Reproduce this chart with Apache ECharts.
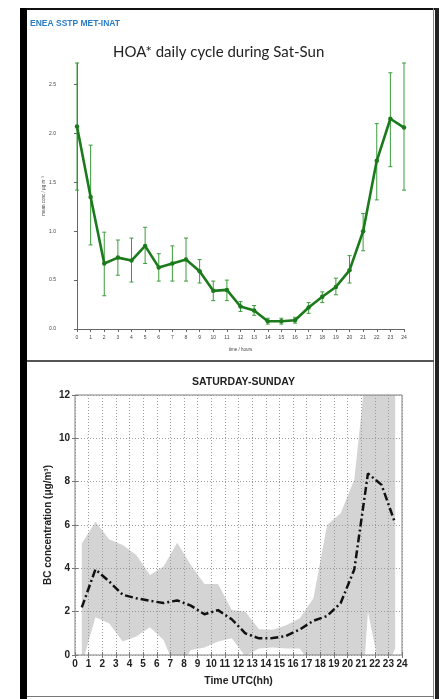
<!DOCTYPE html>
<html>
<head>
<meta charset="utf-8">
<script src="https://cdn.jsdelivr.net/npm/echarts@6/dist/echarts.min.js"></script>
<style>
html,body{margin:0;padding:0;background:#fff;}
#chart{width:439px;height:699px;}
</style>
</head>
<body>
<div id="chart"></div>
<script>
// ---- Top panel: HOA* daily cycle ----
const hoaHours = [0,1,2,3,4,5,6,7,8,9,10,11,12,13,14,15,16,17,18,19,20,21,22,23,24];
const hoaMean  = [2.07,1.35,0.67,0.73,0.70,0.85,0.63,0.67,0.71,0.59,0.39,0.40,0.23,0.19,0.08,0.08,0.09,0.22,0.33,0.43,0.60,1.00,1.72,2.15,2.06];
const hoaHigh  = [2.72,1.88,0.99,0.91,0.93,1.04,0.77,0.85,0.93,0.71,0.49,0.50,0.28,0.24,0.11,0.11,0.12,0.27,0.38,0.52,0.75,1.18,2.10,2.62,2.72];
const hoaLow   = [1.42,0.86,0.34,0.55,0.48,0.67,0.49,0.49,0.49,0.47,0.29,0.29,0.18,0.14,0.05,0.05,0.06,0.16,0.27,0.35,0.47,0.80,1.32,1.66,1.42];
const hoaYTicks = [0,0.5,1,1.5,2,2.5];

// ---- Bottom panel: BC SATURDAY-SUNDAY ----
const bcHours = [0.5,1.5,2.5,3.5,4.5,5.5,6.5,7.5,8.5,9.5,10.5,11.5,12.5,13.5,14.5,15.5,16.5,17.5,18.5,19.5,20.5,21.5,22.5,23.5];
const bcMean  = [2.2,3.95,3.4,2.78,2.62,2.5,2.4,2.52,2.28,1.88,2.07,1.65,1.0,0.77,0.78,0.88,1.18,1.58,1.8,2.4,3.95,8.38,7.85,6.08];
const bcUpper = [5.15,6.15,5.34,5.08,4.61,3.69,4.08,5.18,4.15,3.28,3.28,2.08,2.0,1.19,1.17,1.37,1.7,2.62,6.0,6.54,8.1,14,14,13];
const bcLower = [-0.45,1.74,1.46,0.62,0.85,1.28,0.69,-0.81,0.23,0.35,0.62,0.77,-0.05,0.3,0.35,0.3,0.3,-0.6,-2,-4,-7.5,2.0,-1.1,0.3];
const bcYTicks = [0,2,4,6,8,10,12];

const zip = (a,b) => a.map((v,i)=>[v,b[i]]);

const chart = echarts.init(document.getElementById('chart'), null, {renderer:'canvas'});

const boldFont = {fontFamily:'Liberation Sans, Arial, sans-serif', fontWeight:'bold', color:'#222'};

const option = {
  backgroundColor:'#ffffff',
  animation:false,
  title:[
    {text:'ENEA SSTP MET-INAT', left:30, top:19, padding:0,
     textStyle:{fontFamily:'Liberation Sans, Arial, sans-serif', fontSize:8.5, fontWeight:'bold', color:'#2a7cc4'}},
    {text:'HOA* daily cycle during Sat-Sun', left:113, top:45, padding:0,
     textStyle:{fontFamily:'Lato, Open Sans, sans-serif', fontSize:15, fontWeight:'normal', color:'#222'}},
    {text:'SATURDAY-SUNDAY', left:192, top:377, padding:0,
     textStyle:Object.assign({fontSize:10.5}, boldFont)}
  ],
  graphic:[
    {type:'rect', shape:{x:20,y:8,width:418,height:2}, style:{fill:'#111'}, z:100},
    {type:'rect', shape:{x:20,y:8,width:7,height:691}, style:{fill:'#000'}, z:100},
    {type:'rect', shape:{x:433,y:8,width:1,height:691}, style:{fill:'#888'}, z:100},
    {type:'rect', shape:{x:435,y:8,width:4,height:691}, style:{fill:'#222'}, z:100},
    {type:'rect', shape:{x:27,y:360,width:407,height:2}, style:{fill:'#555'}, z:100},
    {type:'rect', shape:{x:27,y:696,width:407,height:1}, style:{fill:'#777'}, z:100}
  ],
  grid:[
    {left:77, right:35, top:63, bottom:370},
    {left:75, right:37, top:395, bottom:44, show:true, borderColor:'#808080', borderWidth:1, backgroundColor:'transparent'}
  ],
  xAxis:[
    {gridIndex:0, type:'value', min:0, max:24, interval:1, offset:1,
     axisLine:{show:true, lineStyle:{color:'#666', width:1}},
     axisTick:{show:true, inside:false, length:3, lineStyle:{color:'#666'}},
     axisLabel:{fontSize:5, color:'#444', margin:5, fontFamily:'Liberation Sans, Arial, sans-serif'},
     splitLine:{show:false},
     name:'time / hours', nameLocation:'middle', nameGap:17, nameMoveOverlap:false,
     nameTextStyle:{fontSize:4.5, color:'#444'}},
    {gridIndex:1, type:'value', min:0, max:24, interval:1,
     axisLine:{show:false},
     axisTick:{show:true, inside:true, length:3, lineStyle:{color:'#777'}},
     axisLabel:Object.assign({fontSize:10, margin:4}, boldFont),
     splitLine:{show:true, lineStyle:{color:'#9a9a9a', type:[1,2], width:1}},
     name:'Time UTC(hh)', nameLocation:'middle', nameGap:21, nameMoveOverlap:false,
     nameTextStyle:Object.assign({fontSize:10.5}, boldFont)},
    {gridIndex:1, type:'value', min:0, max:24, interval:1, position:'top',
     axisLine:{show:false}, axisTick:{show:true, inside:true, length:3, lineStyle:{color:'#777'}},
     axisLabel:{show:false}, splitLine:{show:false}}
  ],
  yAxis:[
    {gridIndex:0, type:'value', min:0, max:2.72, interval:0.5, offset:17,
     axisLine:{show:true, lineStyle:{color:'#666', width:1}},
     axisTick:{show:true, inside:false, length:3, customValues:hoaYTicks, lineStyle:{color:'#666'}},
     axisLabel:{fontSize:5, color:'#444', margin:4, customValues:hoaYTicks,
                formatter:v=>v.toFixed(1), fontFamily:'Liberation Sans, Arial, sans-serif'},
     splitLine:{show:false},
     name:'mean conc / \u00b5g m\u207b\u00b3', nameLocation:'middle', nameGap:14, nameRotate:90,
     nameMoveOverlap:false,
     nameTextStyle:{fontSize:4.5, color:'#444'}},
    {gridIndex:1, type:'value', min:0, max:12, interval:2,
     axisLine:{show:false},
     axisTick:{show:true, inside:true, length:3, lineStyle:{color:'#777'}},
     axisLabel:Object.assign({fontSize:10, margin:5}, boldFont),
     splitLine:{show:true, lineStyle:{color:'#9a9a9a', type:[1,2], width:1}},
     name:'BC concentration (\u03bcg/m\u00b3)', nameLocation:'middle', nameGap:22, nameRotate:90,
     nameMoveOverlap:false,
     nameTextStyle:Object.assign({fontSize:10}, boldFont)},
    {gridIndex:1, type:'value', min:0, max:12, interval:2, position:'right',
     axisLine:{show:false}, axisTick:{show:true, inside:true, length:3, lineStyle:{color:'#777'}},
     axisLabel:{show:false}, splitLine:{show:false}}
  ],
  series:[
    {type:'custom', name:'BC band', xAxisIndex:1, yAxisIndex:1, clip:true, silent:true, z:-1,
     data: bcHours.map((h,i)=>[h, bcLower[i], bcUpper[i]]),
     renderItem:function(params, api){
       if (params.dataIndexInside !== 0) return null;
       const n = params.dataInsideLength;
       const up = [], lo = [];
       for (let i = 0; i < n; i++) {
         up.push(api.coord([api.value(0, i), api.value(2, i)]));
         lo.push(api.coord([api.value(0, i), api.value(1, i)]));
       }
       return {type:'polygon', shape:{points: up.concat(lo.reverse())},
               style:{fill:'#d4d4d4', stroke:null}};
     }},
    {type:'custom', name:'HOA error', xAxisIndex:0, yAxisIndex:0,
     data: hoaHours.map((h,i)=>[h, hoaLow[i], hoaHigh[i]]),
     renderItem:function(params, api){
       const x = api.value(0), lo = api.value(1), hi = api.value(2);
       const t = api.coord([x, hi]), b = api.coord([x, lo]);
       const c = 2, st = {stroke:'#3c9c3c', lineWidth:1};
       return {type:'group', children:[
         {type:'line', shape:{x1:t[0],y1:t[1],x2:b[0],y2:b[1]}, style:st},
         {type:'line', shape:{x1:t[0]-c,y1:t[1],x2:t[0]+c,y2:t[1]}, style:st},
         {type:'line', shape:{x1:b[0]-c,y1:b[1],x2:b[0]+c,y2:b[1]}, style:st}
       ]};
     }, z:2},
    {type:'line', name:'HOA', xAxisIndex:0, yAxisIndex:0, data:zip(hoaHours, hoaMean),
     symbol:'circle', symbolSize:4.5, itemStyle:{color:'#1b7a1b'},
     lineStyle:{color:'#1b7a1b', width:2.6}, z:3},
    {type:'line', name:'BC mean', xAxisIndex:1, yAxisIndex:1, data:zip(bcHours, bcMean),
     symbol:'none', lineStyle:{color:'#111', width:2.5, type:[8,3,2,3]}, z:3}
  ]
};
chart.setOption(option);
</script>
</body>
</html>
